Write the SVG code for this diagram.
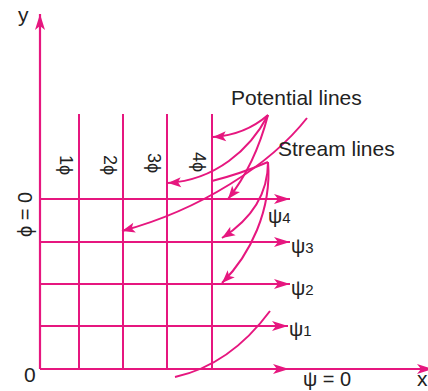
<svg xmlns="http://www.w3.org/2000/svg" width="428" height="391" viewBox="0 0 428 391">
<style>
.ln{fill:none;stroke:#e6177f;stroke-width:2}
.ax{fill:none;stroke:#e6177f;stroke-width:2.2}
.t{font-family:"Liberation Sans",Arial,sans-serif;fill:#222}
.g{font-family:"Liberation Sans","DejaVu Sans",sans-serif;fill:#222}
</style>
<defs>
<marker id="ah" viewBox="-16 -6 17 12" refX="0" refY="0" markerWidth="17" markerHeight="12" markerUnits="userSpaceOnUse" orient="auto">
<path d="M0,0 L-16,-5 L-12,0 L-16,5 Z" fill="#e6177f"/>
</marker>
<marker id="ac" viewBox="-14 -6 15 12" refX="0" refY="0" markerWidth="15" markerHeight="12" markerUnits="userSpaceOnUse" orient="auto">
<path d="M0,0 L-13,-5 L-10,0 L-13,5 Z" fill="#e6177f"/>
</marker>
</defs>
<rect width="428" height="391" fill="#fff"/>
<g id="connectors">
<path class="ax" d="M40,369 V14" marker-end="url(#ah)"/>
<path class="ax" d="M40,369 H289" marker-end="url(#ah)"/>
<path class="ax" d="M289,369 H433" marker-end="url(#ah)"/>
<path class="ln" d="M79,114 V369 M123,114 V369 M167,114 V369 M212,114 V369"/>
<path class="ln" d="M40,199 H290" marker-end="url(#ah)"/>
<path class="ln" d="M40,242 H290" marker-end="url(#ah)"/>
<path class="ln" d="M40,284 H290" marker-end="url(#ah)"/>
<path class="ln" d="M40,326 H288" marker-end="url(#ah)"/>
<path class="ln" d="M268,115 Q245,135 213,137" marker-end="url(#ac)"/>
<path class="ln" d="M268,115 C250,150 215,180 168,183" marker-end="url(#ac)"/>
<path class="ln" d="M268,115 Q255,165 228,199" marker-end="url(#ac)"/>
<path class="ln" d="M307,118 C270,165 200,210 122,231" marker-end="url(#ac)"/>
<path class="ln" d="M268,162 Q240,174 212,181"/>
<path class="ln" d="M268,162 C268,195 250,220 222,238" marker-end="url(#ac)"/>
<path class="ln" d="M268,162 C272,210 250,255 222,283" marker-end="url(#ac)"/>
<path class="ln" d="M175,377 Q230,365 270,311"/>
</g>
<g id="labels">
<text class="t" x="18" y="22" font-size="21">y</text>
<text class="t" x="24" y="382" font-size="21">0</text>
<text class="t" x="417" y="386" font-size="21">x</text>
<text class="t" x="231" y="105" font-size="21">Potential lines</text>
<text class="t" x="278" y="156" font-size="21">Stream lines</text>
<text class="g" x="268" y="223" font-size="20">ψ<tspan font-size="15">4</tspan></text>
<text class="g" x="291" y="253" font-size="20">ψ<tspan font-size="15">3</tspan></text>
<text class="g" x="291" y="295" font-size="20">ψ<tspan font-size="15">2</tspan></text>
<text class="g" x="289" y="336" font-size="20">ψ<tspan font-size="15">1</tspan></text>
<text class="g" x="303" y="386" font-size="20">ψ = 0</text>
<text class="g" transform="translate(32,237) rotate(-90)" font-size="20">ϕ = 0</text>
<text class="g" transform="translate(60,155) rotate(90)" font-size="18">1ϕ</text>
<text class="g" transform="translate(104,155) rotate(90)" font-size="18">2ϕ</text>
<text class="g" transform="translate(148,153) rotate(90)" font-size="18">3ϕ</text>
<text class="g" transform="translate(193,152) rotate(90)" font-size="18">4ϕ</text>
</g>
</svg>
